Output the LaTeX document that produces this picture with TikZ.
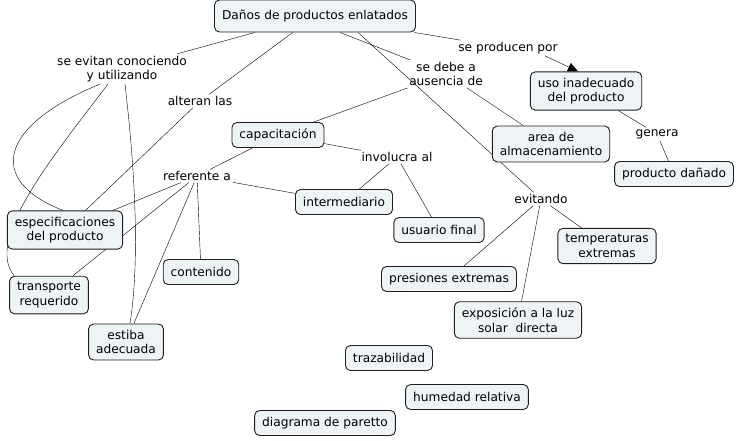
\documentclass[tikz,border=0pt]{standalone}
\usepackage{fontspec}
\setmainfont{DejaVu Sans}
\usetikzlibrary{positioning,arrows.meta,backgrounds}
\definecolor{cmapfill}{RGB}{238,243,246}
\definecolor{cmapline}{RGB}{30,30,30}
\tikzstyle{concept}=[draw=cmapline,fill=cmapfill,rounded corners=5pt,align=center,
  inner xsep=7.5pt,inner ysep=6pt,minimum height=25pt]
\tikzstyle{phrase}=[align=center,inner sep=1.5pt]
\newcommand{\newConcept}[4]{\node[concept,#3](#1) at (#4) {#2};}
\newcommand{\newPhrase}[3]{\node[phrase](#1) at (#3) {#2};}
\newcommand{\newLink}[3]{\path (#1) edge [#3] (#2);}

\begin{document}
\begin{tikzpicture}[x=1pt,y=-1pt,
      font=\fontsize{12.2}{14.5}\selectfont,
      line width=0.9pt  %thin lines as in the map
      ]
      \useasboundingbox (0,0) rectangle (737,440);
      % concepts
      \newConcept{dan}{Daños de productos enlatados}{minimum height=32pt}{315,16}
      \newConcept{uso}{uso inadecuado\\del producto}{}{586,91}
      \newConcept{alm}{area de\\almacenamiento}{}{551,144}
      \newConcept{pda}{producto dañado}{}{674,174}
      \newConcept{cap}{capacitación}{}{278,135}
      \newConcept{int}{intermediario}{}{344,202}
      \newConcept{usu}{usuario final}{}{439,230}
      \newConcept{tem}{temperaturas\\extremas}{}{607,246}
      \newConcept{pre}{presiones extremas}{}{449,279}
      \newConcept{exs}{exposición a la luz\\solar\ \ directa}{}{518,320}
      \newConcept{esp}{especificaciones\\del producto}{}{65,230}
      \newConcept{tra}{transporte\\requerido}{}{49,295}
      \newConcept{con}{contenido}{}{201,272}
      \newConcept{est}{estiba\\adecuada}{}{126,342}
      \newConcept{trz}{trazabilidad}{}{389,358}
      \newConcept{hum}{humedad relativa}{}{467,397}
      \newConcept{par}{diagrama de paretto}{}{325,423}
      % linking phrases
      \newPhrase{sev}{se evitan conociendo\\y utilizando}{122,69}
      \newPhrase{alt}{alteran las}{200,101}
      \newPhrase{sdb}{se debe a\\ausencia de}{446,74}
      \newPhrase{spp}{se producen por}{508,48}
      \newPhrase{gen}{genera}{657,134}
      \newPhrase{ref}{referente a}{197,176}
      \newPhrase{inv}{involucra al}{397,157}
      \newPhrase{evi}{evitando}{541,199}

      \begin{scope}[on background layer]
      \newLink{dan}{sev}{}
      \newLink{dan}{alt}{}
      \newLink{[xshift=25pt]dan.south}{sdb}{}
      \newLink{[xshift=43pt]dan.south}{evi}{}
      \newLink{dan}{spp}{}
      \draw[-{Triangle[length=10pt,width=9pt]}] ([xshift=37pt]spp.south) -- ([xshift=-8pt]uso.north);
      \newLink{sdb}{cap}{}
      \newLink{sdb}{alm}{}
      \newLink{uso}{gen}{}
      \newLink{gen}{pda}{}
      \newLink{cap}{inv}{}
      \newLink{inv}{int}{}
      \newLink{inv}{usu}{}
      \newLink{ref}{cap}{}
      \newLink{ref}{int}{}
      \newLink{ref}{esp}{}
      \newLink{ref}{tra}{}
      \newLink{ref}{con}{}
      \newLink{ref}{est}{}
      \newLink{alt}{esp}{}
      \newLink{evi}{pre}{}
      \newLink{evi}{exs}{}
      \newLink{evi}{tem}{}
      % curved links from se evitan
      \draw ([xshift=-22pt]sev.south) .. controls (0,125) and (-15,180) .. ([xshift=-2pt]esp.north);
      \draw ([xshift=-14pt]sev.south) .. controls (50,160) and (-15,240) .. ([xshift=5pt]tra.north west);
      \draw ([xshift=3pt]sev.south) .. controls (135,170) and (140,260) .. ([xshift=4pt]est.north);
      \end{scope}
    \end{tikzpicture}
\end{document}
